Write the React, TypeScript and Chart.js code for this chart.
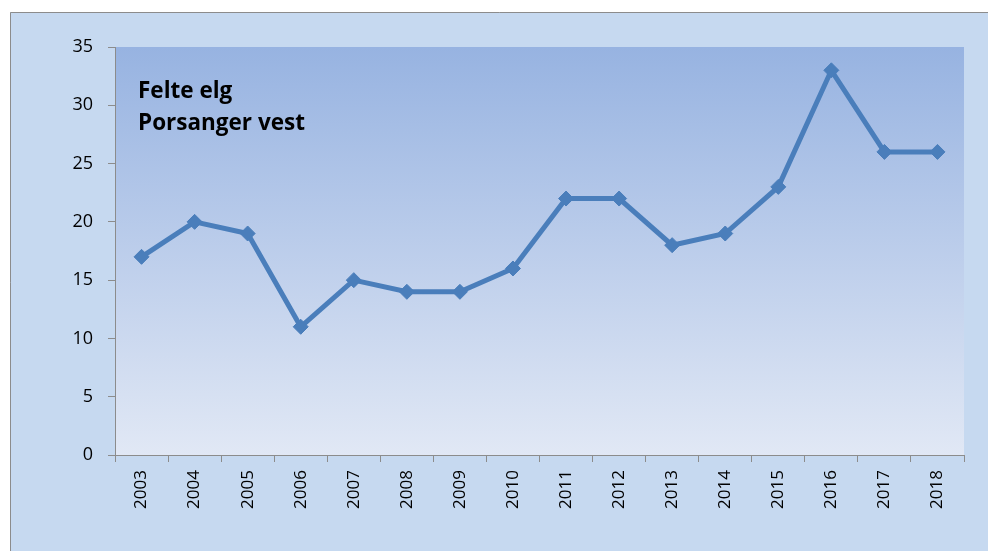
import React, { useEffect, useRef } from "react";
import { Chart, registerables } from "chart.js";

Chart.register(...registerables);

const years = ["2003","2004","2005","2006","2007","2008","2009","2010","2011","2012","2013","2014","2015","2016","2017","2018"];
const felteElg = [17, 20, 19, 11, 15, 14, 14, 16, 22, 22, 18, 19, 23, 33, 26, 26];
const titleLines = ["Felte elg", "Porsanger vest"];

const FONT = "'Open Sans', 'Liberation Sans', sans-serif";
const TITLE_FONT = "'Open Sans', 'Liberation Sans', sans-serif";

const bgPlugin = {
  id: "bgPlugin",
  beforeDraw(chart: any) {
    const { ctx, width, height, chartArea } = chart;
    ctx.save();
    ctx.fillStyle = "#ffffff";
    ctx.fillRect(0, 0, width, height);
    ctx.fillStyle = "#c6d9f0";
    ctx.fillRect(10, 12, width - 10, height - 12);
    ctx.strokeStyle = "#8c8c8c";
    ctx.lineWidth = 1;
    ctx.beginPath();
    ctx.moveTo(10.5, height + 2);
    ctx.lineTo(10.5, 12.5);
    ctx.lineTo(width + 2, 12.5);
    ctx.stroke();
    const g = ctx.createLinearGradient(0, chartArea.top, 0, chartArea.bottom);
    g.addColorStop(0, "#97b3e1");
    g.addColorStop(1, "#e1e8f5");
    ctx.fillStyle = g;
    ctx.fillRect(chartArea.left, chartArea.top, chartArea.right - chartArea.left, chartArea.bottom - chartArea.top);
    ctx.restore();
  },
  afterDraw(chart: any) {
    const { ctx, chartArea } = chart;
    ctx.save();
    ctx.fillStyle = "#000000";
    ctx.font = `bold 22.5px ${TITLE_FONT}`;
    ctx.textBaseline = "alphabetic";
    ctx.fillText(titleLines[0], chartArea.left + 23, 98);
    ctx.fillText(titleLines[1], chartArea.left + 23, 130);
    ctx.restore();
  },
};

export default function App() {
  const ref = useRef<HTMLCanvasElement | null>(null);
  useEffect(() => {
    if (!ref.current) return;
    const chart = new Chart(ref.current, {
      type: "line",
      data: {
        labels: years,
        datasets: [
          {
            data: felteElg,
            borderColor: "#4a7ebb",
            backgroundColor: "#4a7ebb",
            borderWidth: 5,
            pointStyle: "rectRot",
            pointRadius: 7.5,
            pointHoverRadius: 7.5,
            pointBorderWidth: 1,
            tension: 0,
          },
        ],
      },
      plugins: [bgPlugin],
      options: {
        animation: false,
        responsive: false,
        maintainAspectRatio: false,
        layout: { padding: { left: 0, right: 24, top: 47, bottom: 0 } },
        plugins: { legend: { display: false }, tooltip: { enabled: false }, title: { display: false } },
        scales: {
          x: {
            offset: true,
            grid: { offset: true, drawOnChartArea: false, drawTicks: true, tickLength: 7, color: "#8c8c8c" },
            border: { color: "#8c8c8c", width: 1 },
            ticks: { color: "#000", font: { family: FONT, size: 17 }, minRotation: 90, maxRotation: 90, padding: 8 },
            afterFit: (s: any) => { s.height = 96; },
          },
          y: {
            min: 0,
            max: 35,
            ticks: { stepSize: 5, color: "#000", font: { family: FONT, size: 18 }, padding: 15 },
            grid: { drawOnChartArea: false, drawTicks: true, tickLength: 7, color: "#8c8c8c" },
            border: { color: "#8c8c8c", width: 1 },
            afterFit: (s: any) => { s.width = 115; },
          },
        },
      },
    });
    return () => chart.destroy();
  }, []);
  return (
    <div style={{ position: "fixed", left: 0, top: 0, width: 988, height: 551 }}>
      <canvas ref={ref} width={988} height={551} style={{ width: 988, height: 551, display: "block" }} />
    </div>
  );
}
